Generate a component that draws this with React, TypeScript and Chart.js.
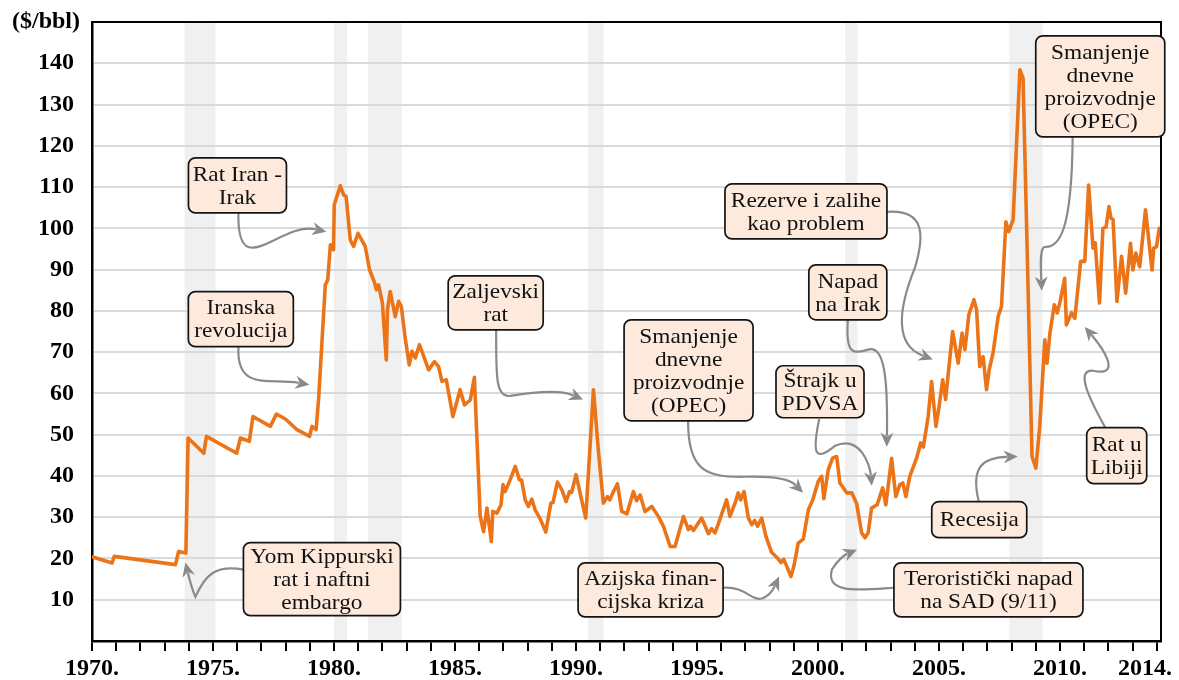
import React, { useEffect, useRef } from 'react';
import { Chart, registerables } from 'chart.js';

Chart.register(...registerables);

// ---- Data ----
const years: number[] = [
  1970.0, 1970.83, 1970.92, 1973.45, 1973.58, 1973.88, 1973.97, 1974.62, 1974.73, 1975.98,
  1976.13, 1976.5, 1976.65, 1977.37, 1977.62, 1977.99, 1978.47, 1978.99, 1979.09, 1979.26,
  1979.37, 1979.64, 1979.74, 1979.85, 1979.98, 1980.01, 1980.26, 1980.4, 1980.5, 1980.67,
  1980.81, 1980.99, 1981.29, 1981.47, 1981.66, 1981.75, 1981.84, 1982.0, 1982.16, 1982.21,
  1982.32, 1982.53, 1982.67, 1982.78, 1982.94, 1983.11, 1983.22, 1983.36, 1983.53, 1983.91,
  1984.15, 1984.32, 1984.46, 1984.64, 1984.91, 1985.21, 1985.39, 1985.63, 1985.8, 1986.04,
  1986.18, 1986.32, 1986.5, 1986.56, 1986.73, 1986.9, 1986.98, 1987.07, 1987.28, 1987.49,
  1987.66, 1987.75, 1987.9, 1988.03, 1988.17, 1988.31, 1988.52, 1988.75, 1988.96, 1989.05,
  1989.23, 1989.41, 1989.59, 1989.73, 1989.82, 1990.0, 1990.2, 1990.4, 1990.72, 1990.92,
  1991.13, 1991.3, 1991.4, 1991.52, 1991.71, 1991.89, 1992.1, 1992.37, 1992.5, 1992.65,
  1992.85, 1993.13, 1993.4, 1993.61, 1993.89, 1994.09, 1994.44, 1994.64, 1994.73, 1994.85,
  1995.19, 1995.47, 1995.6, 1995.74, 1995.88, 1996.22, 1996.36, 1996.57, 1996.7, 1996.8,
  1996.94, 1997.12, 1997.26, 1997.38, 1997.5, 1997.67, 1997.85, 1998.08, 1998.29, 1998.47,
  1998.58, 1998.7, 1998.88, 1999.0, 1999.18, 1999.39, 1999.6, 1999.78, 2000.01, 2000.15,
  2000.24, 2000.42, 2000.6, 2000.77, 2000.9, 2001.0, 2001.18, 2001.39, 2001.59, 2001.8,
  2001.94, 2002.07, 2002.21, 2002.44, 2002.67, 2002.8, 2003.04, 2003.21, 2003.38, 2003.5,
  2003.63, 2003.79, 2004.07, 2004.24, 2004.35, 2004.55, 2004.69, 2004.87, 2005.0, 2005.15,
  2005.27, 2005.56, 2005.79, 2005.95, 2006.07, 2006.23, 2006.44, 2006.55, 2006.68, 2006.82,
  2006.96, 2007.07, 2007.23, 2007.44, 2007.58, 2007.76, 2007.88, 2008.06, 2008.34, 2008.47,
  2008.65, 2008.84, 2009.0, 2009.16, 2009.37, 2009.46, 2009.58, 2009.76, 2009.88, 2009.99,
  2010.19, 2010.26, 2010.47, 2010.61, 2010.85, 2011.02, 2011.18, 2011.36, 2011.45, 2011.63,
  2011.77, 2011.9, 2012.02, 2012.1, 2012.19, 2012.35, 2012.54, 2012.71, 2012.91, 2013.01,
  2013.13, 2013.29, 2013.53, 2013.8, 2013.87, 2013.98, 2014.1,
];

const prices: number[] = [
  20.4, 18.9, 20.5, 18.5, 21.7, 21.3, 49.2, 45.5, 49.6, 45.5,
  49.2, 48.4, 54.4, 52.0, 55.0, 53.8, 51.2, 49.6, 52.0, 51.2,
  59.3, 86.3, 87.5, 96.0, 94.8, 105.7, 110.3, 108.1, 107.7, 97.2,
  95.6, 98.8, 95.6, 89.9, 87.1, 85.1, 86.3, 81.9, 68.1, 80.3,
  84.7, 78.6, 82.3, 81.1, 73.4, 66.9, 70.2, 68.6, 71.8, 65.7,
  67.7, 66.5, 62.9, 63.3, 54.4, 60.9, 57.2, 58.4, 63.9, 30.2,
  26.5, 32.2, 24.1, 31.4, 31.0, 33.0, 37.9, 36.2, 39.1, 42.3,
  39.1, 39.0, 34.2, 32.6, 34.4, 31.8, 29.6, 26.4, 33.4, 33.6,
  38.5, 36.7, 33.8, 36.2, 36.0, 40.3, 35.0, 29.8, 60.9, 46.3,
  33.4, 35.0, 34.2, 35.9, 38.1, 31.4, 30.8, 36.2, 34.0, 35.4,
  31.4, 32.6, 30.2, 27.8, 22.9, 22.9, 30.2, 27.0, 27.8, 26.8,
  29.8, 26.0, 27.2, 26.2, 28.4, 34.2, 30.2, 33.4, 35.9, 34.2,
  36.2, 29.8, 28.2, 29.2, 27.8, 29.8, 25.3, 21.5, 20.3, 19.0,
  19.8, 18.2, 15.6, 18.1, 23.7, 24.7, 31.8, 34.2, 38.7, 39.9,
  34.5, 41.5, 44.3, 44.7, 38.3, 37.5, 35.9, 35.9, 33.4, 26.2,
  25.0, 26.2, 32.2, 33.0, 37.1, 33.0, 44.3, 35.0, 37.9, 38.3,
  35.0, 39.9, 44.3, 48.0, 47.0, 54.4, 62.9, 52.0, 56.8, 63.3,
  58.5, 75.0, 67.3, 74.6, 70.6, 79.1, 82.7, 80.3, 66.5, 68.9,
  60.9, 65.7, 69.8, 78.6, 81.1, 101.6, 99.2, 102.1, 138.4, 136.4,
  92.4, 44.7, 41.9, 52.0, 73.0, 67.3, 74.6, 81.5, 79.5, 81.9,
  87.9, 76.6, 79.5, 78.2, 92.0, 92.0, 110.5, 95.2, 96.5, 81.9,
  100.0, 100.3, 105.3, 102.5, 102.1, 82.3, 93.2, 84.3, 96.4, 89.9,
  94.0, 90.7, 104.5, 89.9, 95.2, 95.5, 100.0,
];

const recessionStarts: number[] = [1973.83, 1980.0, 1981.4, 1990.5, 2001.12, 2007.9];
const recessionEnds: number[] = [1975.1, 1980.54, 1982.8, 1991.13, 2001.63, 2009.28];

const yTickValues: number[] = [0, 10, 20, 30, 40, 50, 60, 70, 80, 90, 100, 110, 120, 130, 140, 150];
const xLabelYears: number[] = [1970, 1975, 1980, 1985, 1990, 1995, 2000, 2005, 2010, 2014];
const xMin = 1970;
const xMax = 2014.17;

// annotation boxes: centre in data units, box size in px, arrow path in data units
const annotationTexts: string[][] = [
  ['Rat Iran -', 'Irak'],
  ['Iranska', 'revolucija'],
  ['Yom Kippurski', 'rat i naftni', 'embargo'],
  ['Zaljevski', 'rat'],
  ['Smanjenje', 'dnevne', 'proizvodnje', '(OPEC)'],
  ['Azijska finan-', 'cijska kriza'],
  ['Štrajk u', 'PDVSA'],
  ['Napad', 'na Irak'],
  ['Rezerve i zalihe', 'kao problem'],
  ['Smanjenje', 'dnevne', 'proizvodnje', '(OPEC)'],
  ['Recesija'],
  ['Teroristički napad', 'na SAD (9/11)'],
  ['Rat u', 'Libiji'],
];
const annotationAnchors: number[][] = [
  [1976.01, 110.4], [1976.15, 78.0], [1979.5, 15.0], [1986.68, 81.95], [1994.65, 65.6],
  [1993.08, 12.4], [2000.08, 60.4], [2001.23, 84.5], [1999.5, 104.1], [2011.66, 134.4],
  [2006.66, 29.4], [2007.04, 12.4], [2012.34, 44.9],
];
const annotationSizes: number[][] = [
  [98, 55], [105, 55], [157, 73], [95, 54], [129, 101],
  [145, 54], [88, 52], [78, 55], [162, 55], [129, 101],
  [95, 36], [189, 54], [60, 56],
];
const annotationArrows: number[][][] = [
  [[1976.05, 103.8], [1975.97, 86.3], [1977.78, 101.6], [1979.68, 99.2]],
  [[1976.05, 71.1], [1975.97, 60.4], [1977.37, 63.8], [1978.98, 62.1]],
  [[1976.26, 17.3], [1975.1, 18.5], [1974.69, 16.1], [1974.27, 10.7], [1974.15, 12.4], [1973.98, 16.1], [1973.86, 19.0]],
  [[1986.7, 75.4], [1986.7, 64.5], [1986.66, 58.9], [1987.28, 59.4], [1988.31, 60.4], [1989.34, 60.9], [1990.29, 58.5]],
  [[1994.63, 53.1], [1994.63, 41.5], [1995.33, 39.6], [1996.98, 39.8], [1998.22, 40.0], [1998.84, 39.1], [1999.38, 35.9]],
  [[1996.07, 12.9], [1996.98, 13.4], [1997.27, 9.5], [1997.68, 10.3], [1998.01, 11.0], [1998.14, 12.4], [1998.39, 15.6]],
  [[2000.04, 53.6], [1999.75, 45.1], [1999.87, 43.4], [2000.7, 47.3], [2001.73, 50.0], [2002.14, 42.7], [2002.22, 37.6]],
  [[2001.23, 77.8], [2001.15, 70.6], [2001.32, 69.1], [2002.06, 70.6], [2002.76, 71.8], [2002.88, 63.3], [2002.84, 47.1]],
  [[2002.89, 104.0], [2004.41, 104.5], [2004.41, 98.4], [2004.0, 90.4], [2003.3, 80.3], [2003.17, 71.8], [2004.74, 68.2]],
  [[2010.52, 121.9], [2010.48, 99.6], [2009.99, 95.3], [2009.37, 95.5], [2009.16, 95.3], [2009.2, 91.2], [2009.24, 84.9]],
  [[2006.64, 33.8], [2006.27, 42.7], [2006.89, 44.4], [2008.25, 44.7]],
  [[2003.18, 12.9], [2001.73, 12.4], [2000.29, 11.2], [2000.57, 17.3], [2000.82, 19.7], [2001.11, 20.9], [2001.61, 22.1]],
  [[2011.85, 51.9], [2011.23, 58.5], [2010.61, 65.7], [2011.35, 65.5], [2012.67, 63.8], [2011.64, 71.8], [2011.02, 76.1]],
];

const SERIF = '"Liberation Serif", "Times New Roman", serif';
const LINE_COLOR = '#ec7418';
const BAND_COLOR = '#f0f0f0';
const GRID_COLOR = '#dadada';
const ARROW_COLOR = '#8a8a8a';
const BOX_FILL = '#fdeadc';

const overlayPlugin = {
  id: 'overlay',
  beforeDraw(chart: any) {
    const { ctx, chartArea, scales } = chart;
    ctx.save();
    ctx.fillStyle = '#ffffff';
    ctx.fillRect(0, 0, chart.width, chart.height);
    ctx.fillStyle = BAND_COLOR;
    for (let i = 0; i < recessionStarts.length; i++) {
      const x0 = scales.x.getPixelForValue(recessionStarts[i]);
      const x1 = scales.x.getPixelForValue(recessionEnds[i]);
      ctx.fillRect(x0, chartArea.top, x1 - x0, chartArea.bottom - chartArea.top);
    }
    ctx.restore();
  },
  afterDatasetsDraw(chart: any) {
    const { ctx, chartArea, scales } = chart;
    const px = (p: number[]) => [scales.x.getPixelForValue(p[0]), scales.y.getPixelForValue(p[1])];
    ctx.save();
    // frame top & right
    ctx.strokeStyle = '#000';
    ctx.lineWidth = 2;
    ctx.beginPath();
    ctx.moveTo(chartArea.left, chartArea.top);
    ctx.lineTo(chartArea.right, chartArea.top);
    ctx.lineTo(chartArea.right, chartArea.bottom);
    ctx.stroke();

    // arrows
    for (const path of annotationArrows) {
      const pts = path.map(px);
      const end = pts[pts.length - 1];
      const ctrl = pts[pts.length - 2];
      const ang = Math.atan2(end[1] - ctrl[1], end[0] - ctrl[0]);
      const headLen = 14;
      const headHalf = 6.5;
      const baseX = end[0] - Math.cos(ang) * headLen * 0.8;
      const baseY = end[1] - Math.sin(ang) * headLen * 0.8;
      ctx.strokeStyle = ARROW_COLOR;
      ctx.lineWidth = 2.2;
      ctx.lineCap = 'round';
      ctx.beginPath();
      ctx.moveTo(pts[0][0], pts[0][1]);
      for (let i = 1; i + 2 < pts.length; i += 3) {
        const last = i + 2 === pts.length - 1;
        const ex = last ? baseX : pts[i + 2][0];
        const ey = last ? baseY : pts[i + 2][1];
        ctx.bezierCurveTo(pts[i][0], pts[i][1], pts[i + 1][0], pts[i + 1][1], ex, ey);
      }
      ctx.stroke();
      ctx.fillStyle = ARROW_COLOR;
      ctx.beginPath();
      ctx.moveTo(end[0], end[1]);
      const bx = end[0] - Math.cos(ang) * headLen;
      const by = end[1] - Math.sin(ang) * headLen;
      ctx.lineTo(bx - Math.sin(ang) * headHalf, by + Math.cos(ang) * headHalf);
      ctx.lineTo(end[0] - Math.cos(ang) * headLen * 0.7, end[1] - Math.sin(ang) * headLen * 0.7);
      ctx.lineTo(bx + Math.sin(ang) * headHalf, by - Math.cos(ang) * headHalf);
      ctx.closePath();
      ctx.fill();
    }

    // boxes
    const lh = 23;
    for (let i = 0; i < annotationTexts.length; i++) {
      const [cx, cy] = px(annotationAnchors[i]);
      const [w, h] = annotationSizes[i];
      const x0 = cx - w / 2;
      const y0 = cy - h / 2;
      ctx.beginPath();
      ctx.roundRect(x0, y0, w, h, 7);
      ctx.fillStyle = BOX_FILL;
      ctx.fill();
      ctx.strokeStyle = '#141414';
      ctx.lineWidth = 1.7;
      ctx.stroke();
      const lines = annotationTexts[i];
      ctx.fillStyle = '#111';
      ctx.textAlign = 'center';
      ctx.textBaseline = 'middle';
      let size = 22;
      ctx.font = `${size}px ${SERIF}`;
      let maxW = Math.max(...lines.map((l) => ctx.measureText(l).width));
      let sx = 1.06;
      if (maxW * sx > w - 8) sx = (w - 8) / maxW;
      lines.forEach((line, k) => {
        const ty = cy + (k - (lines.length - 1) / 2) * lh + 1;
        ctx.save();
        ctx.translate(cx, ty);
        ctx.scale(sx, 1);
        ctx.fillText(line, 0, 0);
        ctx.restore();
      });
    }

    // unit label
    ctx.fillStyle = '#000';
    ctx.font = `bold 24px ${SERIF}`;
    ctx.textAlign = 'right';
    ctx.textBaseline = 'middle';
    ctx.fillText('($/bbl)', chartArea.left - 12, chartArea.top);
    ctx.restore();
  },
};

export default function App() {
  const canvasRef = useRef<HTMLCanvasElement>(null);

  useEffect(() => {
    document.body.style.margin = '0';
    const canvas = canvasRef.current;
    if (!canvas) return;
    const tickYears = Array.from({ length: 45 }, (_, i) => 1970 + i);
    const chart = new Chart(canvas, {
      type: 'line',
      data: {
        datasets: [
          {
            data: years.map((x, i) => ({ x, y: prices[i] })),
            borderColor: LINE_COLOR,
            borderWidth: 3.6,
            pointRadius: 0,
            tension: 0,
            fill: false,
            borderJoinStyle: 'round',
            borderCapStyle: 'round',
          },
        ],
      },
      options: {
        animation: false,
        responsive: false,
        devicePixelRatio: 1,
        layout: { padding: { top: 22, right: 18, left: 0, bottom: 0 } },
        plugins: { legend: { display: false }, tooltip: { enabled: false } },
        scales: {
          x: {
            type: 'linear',
            min: xMin,
            max: xMax,
            afterBuildTicks: (s: any) => {
              s.ticks = tickYears.map((v) => ({ value: v }));
            },
            afterFit: (s: any) => {
              s.height = 39;
              s.paddingLeft = 0;
              s.paddingRight = 0;
            },
            ticks: {
              autoSkip: false,
              maxRotation: 0,
              minRotation: 0,
              padding: 3,
              color: '#000',
              font: { family: SERIF, size: 24, weight: 'bold' },
              callback: (v: any) => {
                if (!xLabelYears.includes(v)) return '';
                return v === 2014 ? '2014.\u2003' : `${v}.`;
              },
            },
            grid: {
              drawOnChartArea: false,
              drawTicks: true,
              tickLength: 10,
              tickColor: '#000',
              tickWidth: 2,
              color: '#000',
              lineWidth: 2,
            },
            border: { display: true, color: '#000', width: 2.5 },
          },
          y: {
            min: 0,
            max: 150,
            afterBuildTicks: (s: any) => {
              s.ticks = yTickValues.map((v) => ({ value: v }));
            },
            afterFit: (s: any) => {
              s.width = 92;
              s.paddingTop = 0;
              s.paddingBottom = 0;
            },
            ticks: {
              padding: 18,
              color: '#000',
              font: { family: SERIF, size: 24, weight: 'bold' },
              callback: (v: any) => (v >= 10 && v <= 140 ? String(v) : ''),
            },
            grid: {
              drawTicks: false,
              lineWidth: 2,
              color: (c: any) => (c.tick && c.tick.value >= 10 && c.tick.value <= 140 ? GRID_COLOR : 'rgba(0,0,0,0)'),
            },
            border: { display: true, color: '#000', width: 2.5 },
          },
        },
      },
      plugins: [overlayPlugin],
    } as any);
    return () => chart.destroy();
  }, []);

  return (
    <div style={{ width: 1179, height: 680, position: 'relative' }}>
      <canvas ref={canvasRef} width={1179} height={680} style={{ display: 'block', width: 1179, height: 680 }} />
    </div>
  );
}
